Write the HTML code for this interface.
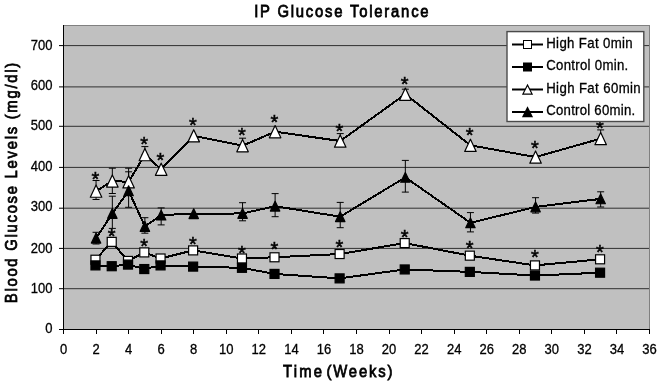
<!DOCTYPE html>
<html><head><meta charset="utf-8"><style>
html,body{margin:0;padding:0;background:#fff;width:661px;height:386px;overflow:hidden;position:relative}
.t{font-family:"Liberation Sans",sans-serif;font-size:14px;fill:#000;stroke:#000;stroke-width:0.3px}
.b{font-family:"Liberation Sans",sans-serif;font-size:17.3px;fill:#000;stroke:#000;stroke-width:0.8px}
.lg{font-family:"Liberation Sans",sans-serif;font-size:14.2px;fill:#000;stroke:#000;stroke-width:0.3px}
.ast{font-family:"Liberation Sans",sans-serif;font-size:20px;fill:#000;stroke:#000;stroke-width:0.5px}
</style></head><body>
<svg width="661" height="386" viewBox="0 0 661 386" style="position:absolute;left:0;top:0;will-change:transform"><rect x="63" y="25" width="587" height="305" fill="#c0c0c0"/><line x1="63" y1="288.7" x2="649" y2="288.7" stroke="#303030" stroke-width="1"/><line x1="63" y1="248.4" x2="649" y2="248.4" stroke="#303030" stroke-width="1"/><line x1="63" y1="208.2" x2="649" y2="208.2" stroke="#303030" stroke-width="1"/><line x1="63" y1="167.4" x2="649" y2="167.4" stroke="#303030" stroke-width="1"/><line x1="63" y1="126.3" x2="649" y2="126.3" stroke="#303030" stroke-width="1"/><line x1="63" y1="86.9" x2="649" y2="86.9" stroke="#303030" stroke-width="1"/><line x1="63" y1="45.6" x2="649" y2="45.6" stroke="#303030" stroke-width="1"/><line x1="63" y1="25.5" x2="650" y2="25.5" stroke="#808080" stroke-width="1"/><line x1="649.5" y1="25" x2="649.5" y2="330" stroke="#808080" stroke-width="1"/><line x1="63.5" y1="25" x2="63.5" y2="330" stroke="#000" stroke-width="1"/><line x1="63" y1="329.5" x2="650" y2="329.5" stroke="#000" stroke-width="1"/><line x1="59" y1="329.5" x2="63" y2="329.5" stroke="#000" stroke-width="1"/><text transform="translate(52.5,332.8) scale(0.93,1)" text-anchor="end" class="t">0</text><line x1="59" y1="288.7" x2="63" y2="288.7" stroke="#000" stroke-width="1"/><text transform="translate(52.5,293.3) scale(0.93,1)" text-anchor="end" class="t">100</text><line x1="59" y1="248.4" x2="63" y2="248.4" stroke="#000" stroke-width="1"/><text transform="translate(52.5,252.6) scale(0.93,1)" text-anchor="end" class="t">200</text><line x1="59" y1="208.2" x2="63" y2="208.2" stroke="#000" stroke-width="1"/><text transform="translate(52.5,211.3) scale(0.93,1)" text-anchor="end" class="t">300</text><line x1="59" y1="167.4" x2="63" y2="167.4" stroke="#000" stroke-width="1"/><text transform="translate(52.5,170.6) scale(0.93,1)" text-anchor="end" class="t">400</text><line x1="59" y1="126.3" x2="63" y2="126.3" stroke="#000" stroke-width="1"/><text transform="translate(52.5,130.0) scale(0.93,1)" text-anchor="end" class="t">500</text><line x1="59" y1="86.9" x2="63" y2="86.9" stroke="#000" stroke-width="1"/><text transform="translate(52.5,89.9) scale(0.93,1)" text-anchor="end" class="t">600</text><line x1="59" y1="45.6" x2="63" y2="45.6" stroke="#000" stroke-width="1"/><text transform="translate(52.5,50.0) scale(0.93,1)" text-anchor="end" class="t">700</text><line x1="63.5" y1="329" x2="63.5" y2="334" stroke="#000" stroke-width="1"/><text transform="translate(63.50,353.8) scale(0.93,1)" text-anchor="middle" class="t">0</text><line x1="96.5" y1="329" x2="96.5" y2="334" stroke="#000" stroke-width="1"/><text transform="translate(96.06,353.8) scale(0.93,1)" text-anchor="middle" class="t">2</text><line x1="128.5" y1="329" x2="128.5" y2="334" stroke="#000" stroke-width="1"/><text transform="translate(128.61,353.8) scale(0.93,1)" text-anchor="middle" class="t">4</text><line x1="161.5" y1="329" x2="161.5" y2="334" stroke="#000" stroke-width="1"/><text transform="translate(161.17,353.8) scale(0.93,1)" text-anchor="middle" class="t">6</text><line x1="193.5" y1="329" x2="193.5" y2="334" stroke="#000" stroke-width="1"/><text transform="translate(193.72,353.8) scale(0.93,1)" text-anchor="middle" class="t">8</text><line x1="226.5" y1="329" x2="226.5" y2="334" stroke="#000" stroke-width="1"/><text transform="translate(226.28,353.8) scale(0.93,1)" text-anchor="middle" class="t">10</text><line x1="258.5" y1="329" x2="258.5" y2="334" stroke="#000" stroke-width="1"/><text transform="translate(258.83,353.8) scale(0.93,1)" text-anchor="middle" class="t">12</text><line x1="291.5" y1="329" x2="291.5" y2="334" stroke="#000" stroke-width="1"/><text transform="translate(291.39,353.8) scale(0.93,1)" text-anchor="middle" class="t">14</text><line x1="323.5" y1="329" x2="323.5" y2="334" stroke="#000" stroke-width="1"/><text transform="translate(323.94,353.8) scale(0.93,1)" text-anchor="middle" class="t">16</text><line x1="356.5" y1="329" x2="356.5" y2="334" stroke="#000" stroke-width="1"/><text transform="translate(356.50,353.8) scale(0.93,1)" text-anchor="middle" class="t">18</text><line x1="389.5" y1="329" x2="389.5" y2="334" stroke="#000" stroke-width="1"/><text transform="translate(389.06,353.8) scale(0.93,1)" text-anchor="middle" class="t">20</text><line x1="421.5" y1="329" x2="421.5" y2="334" stroke="#000" stroke-width="1"/><text transform="translate(421.61,353.8) scale(0.93,1)" text-anchor="middle" class="t">22</text><line x1="454.5" y1="329" x2="454.5" y2="334" stroke="#000" stroke-width="1"/><text transform="translate(454.17,353.8) scale(0.93,1)" text-anchor="middle" class="t">24</text><line x1="486.5" y1="329" x2="486.5" y2="334" stroke="#000" stroke-width="1"/><text transform="translate(486.72,353.8) scale(0.93,1)" text-anchor="middle" class="t">26</text><line x1="519.5" y1="329" x2="519.5" y2="334" stroke="#000" stroke-width="1"/><text transform="translate(519.28,353.8) scale(0.93,1)" text-anchor="middle" class="t">28</text><line x1="551.5" y1="329" x2="551.5" y2="334" stroke="#000" stroke-width="1"/><text transform="translate(551.83,353.8) scale(0.93,1)" text-anchor="middle" class="t">30</text><line x1="584.5" y1="329" x2="584.5" y2="334" stroke="#000" stroke-width="1"/><text transform="translate(584.39,353.8) scale(0.93,1)" text-anchor="middle" class="t">32</text><line x1="616.5" y1="329" x2="616.5" y2="334" stroke="#000" stroke-width="1"/><text transform="translate(616.94,353.8) scale(0.93,1)" text-anchor="middle" class="t">34</text><line x1="649.5" y1="329" x2="649.5" y2="334" stroke="#000" stroke-width="1"/><text transform="translate(649.50,353.8) scale(0.93,1)" text-anchor="middle" class="t">36</text><polyline points="95.46,259.72 111.73,241.87 128.01,260.93 144.29,252.41 160.57,258.50 193.12,250.39 241.96,258.50 274.51,257.28 339.62,254.04 404.73,243.08 469.84,255.66 534.96,265.40 600.07,259.31" fill="none" stroke="#000" stroke-width="2" stroke-linejoin="round" shape-rendering="crispEdges"/><polyline points="95.46,265.40 111.73,266.21 128.01,264.59 144.29,269.05 160.57,265.40 193.12,266.61 241.96,267.83 274.51,273.92 339.62,278.38 404.73,269.45 469.84,271.89 534.96,275.54 600.07,272.70" fill="none" stroke="#000" stroke-width="2" stroke-linejoin="round" shape-rendering="crispEdges"/><polyline points="96.06,191.15 112.33,181.01 128.61,181.82 144.89,154.64 161.17,169.24 193.72,135.77 242.56,145.71 275.11,131.71 340.22,141.05 405.33,94.19 470.44,145.31 535.56,157.07 600.67,138.61" fill="none" stroke="#000" stroke-width="2" stroke-linejoin="round" shape-rendering="crispEdges"/><polyline points="96.06,238.21 112.33,213.47 128.61,190.75 144.89,226.45 161.17,215.09 193.72,213.67 242.56,213.47 275.11,206.16 340.22,216.71 405.33,177.36 470.44,222.80 535.56,206.97 600.67,198.86" fill="none" stroke="#000" stroke-width="2" stroke-linejoin="round" shape-rendering="crispEdges"/><g stroke="#000" stroke-width="1"><line x1="96.06" y1="180.50" x2="96.06" y2="199.50"/><line x1="92.56" y1="180.50" x2="99.56" y2="180.50"/><line x1="92.56" y1="199.50" x2="99.56" y2="199.50"/><line x1="112.33" y1="168.20" x2="112.33" y2="193.50"/><line x1="108.83" y1="168.20" x2="115.83" y2="168.20"/><line x1="108.83" y1="193.50" x2="115.83" y2="193.50"/><line x1="128.61" y1="168.20" x2="128.61" y2="195.50"/><line x1="125.11" y1="168.20" x2="132.11" y2="168.20"/><line x1="125.11" y1="195.50" x2="132.11" y2="195.50"/><line x1="144.89" y1="146.60" x2="144.89" y2="155.00"/><line x1="141.39" y1="146.60" x2="148.39" y2="146.60"/><line x1="141.39" y1="155.00" x2="148.39" y2="155.00"/><line x1="242.56" y1="138.20" x2="242.56" y2="150.00"/><line x1="239.06" y1="138.20" x2="246.06" y2="138.20"/><line x1="239.06" y1="150.00" x2="246.06" y2="150.00"/><line x1="340.22" y1="133.60" x2="340.22" y2="140.00"/><line x1="336.72" y1="133.60" x2="343.72" y2="133.60"/><line x1="336.72" y1="140.00" x2="343.72" y2="140.00"/><line x1="405.33" y1="89.20" x2="405.33" y2="95.00"/><line x1="401.83" y1="89.20" x2="408.83" y2="89.20"/><line x1="401.83" y1="95.00" x2="408.83" y2="95.00"/><line x1="600.67" y1="129.90" x2="600.67" y2="144.00"/><line x1="597.17" y1="129.90" x2="604.17" y2="129.90"/><line x1="597.17" y1="144.00" x2="604.17" y2="144.00"/><line x1="96.06" y1="232.30" x2="96.06" y2="244.00"/><line x1="92.56" y1="232.30" x2="99.56" y2="232.30"/><line x1="92.56" y1="244.00" x2="99.56" y2="244.00"/><line x1="112.33" y1="196.20" x2="112.33" y2="228.40"/><line x1="108.83" y1="196.20" x2="115.83" y2="196.20"/><line x1="108.83" y1="228.40" x2="115.83" y2="228.40"/><line x1="128.61" y1="171.80" x2="128.61" y2="207.30"/><line x1="125.11" y1="171.80" x2="132.11" y2="171.80"/><line x1="125.11" y1="207.30" x2="132.11" y2="207.30"/><line x1="144.89" y1="217.70" x2="144.89" y2="233.20"/><line x1="141.39" y1="217.70" x2="148.39" y2="217.70"/><line x1="141.39" y1="233.20" x2="148.39" y2="233.20"/><line x1="161.17" y1="207.90" x2="161.17" y2="224.90"/><line x1="157.67" y1="207.90" x2="164.67" y2="207.90"/><line x1="157.67" y1="224.90" x2="164.67" y2="224.90"/><line x1="242.56" y1="202.70" x2="242.56" y2="220.80"/><line x1="239.06" y1="202.70" x2="246.06" y2="202.70"/><line x1="239.06" y1="220.80" x2="246.06" y2="220.80"/><line x1="275.11" y1="193.60" x2="275.11" y2="216.70"/><line x1="271.61" y1="193.60" x2="278.61" y2="193.60"/><line x1="271.61" y1="216.70" x2="278.61" y2="216.70"/><line x1="340.22" y1="202.40" x2="340.22" y2="227.70"/><line x1="336.72" y1="202.40" x2="343.72" y2="202.40"/><line x1="336.72" y1="227.70" x2="343.72" y2="227.70"/><line x1="405.33" y1="160.40" x2="405.33" y2="192.10"/><line x1="401.83" y1="160.40" x2="408.83" y2="160.40"/><line x1="401.83" y1="192.10" x2="408.83" y2="192.10"/><line x1="470.44" y1="212.60" x2="470.44" y2="231.90"/><line x1="466.94" y1="212.60" x2="473.94" y2="212.60"/><line x1="466.94" y1="231.90" x2="473.94" y2="231.90"/><line x1="535.56" y1="197.70" x2="535.56" y2="213.10"/><line x1="532.06" y1="197.70" x2="539.06" y2="197.70"/><line x1="532.06" y1="213.10" x2="539.06" y2="213.10"/><line x1="600.67" y1="191.80" x2="600.67" y2="207.00"/><line x1="597.17" y1="191.80" x2="604.17" y2="191.80"/><line x1="597.17" y1="207.00" x2="604.17" y2="207.00"/></g><rect x="90.96" y="255.22" width="9" height="9" fill="#fff" stroke="#000" stroke-width="1.2"/><rect x="107.23" y="237.37" width="9" height="9" fill="#fff" stroke="#000" stroke-width="1.2"/><rect x="123.51" y="256.43" width="9" height="9" fill="#fff" stroke="#000" stroke-width="1.2"/><rect x="139.79" y="247.91" width="9" height="9" fill="#fff" stroke="#000" stroke-width="1.2"/><rect x="156.07" y="254.00" width="9" height="9" fill="#fff" stroke="#000" stroke-width="1.2"/><rect x="188.62" y="245.89" width="9" height="9" fill="#fff" stroke="#000" stroke-width="1.2"/><rect x="237.46" y="254.00" width="9" height="9" fill="#fff" stroke="#000" stroke-width="1.2"/><rect x="270.01" y="252.78" width="9" height="9" fill="#fff" stroke="#000" stroke-width="1.2"/><rect x="335.12" y="249.54" width="9" height="9" fill="#fff" stroke="#000" stroke-width="1.2"/><rect x="400.23" y="238.58" width="9" height="9" fill="#fff" stroke="#000" stroke-width="1.2"/><rect x="465.34" y="251.16" width="9" height="9" fill="#fff" stroke="#000" stroke-width="1.2"/><rect x="530.46" y="260.90" width="9" height="9" fill="#fff" stroke="#000" stroke-width="1.2"/><rect x="595.57" y="254.81" width="9" height="9" fill="#fff" stroke="#000" stroke-width="1.2"/><rect x="90.96" y="260.90" width="9" height="9" fill="#000" stroke="#000" stroke-width="1.2"/><rect x="107.23" y="261.71" width="9" height="9" fill="#000" stroke="#000" stroke-width="1.2"/><rect x="123.51" y="260.09" width="9" height="9" fill="#000" stroke="#000" stroke-width="1.2"/><rect x="139.79" y="264.55" width="9" height="9" fill="#000" stroke="#000" stroke-width="1.2"/><rect x="156.07" y="260.90" width="9" height="9" fill="#000" stroke="#000" stroke-width="1.2"/><rect x="188.62" y="262.11" width="9" height="9" fill="#000" stroke="#000" stroke-width="1.2"/><rect x="237.46" y="263.33" width="9" height="9" fill="#000" stroke="#000" stroke-width="1.2"/><rect x="270.01" y="269.42" width="9" height="9" fill="#000" stroke="#000" stroke-width="1.2"/><rect x="335.12" y="273.88" width="9" height="9" fill="#000" stroke="#000" stroke-width="1.2"/><rect x="400.23" y="264.95" width="9" height="9" fill="#000" stroke="#000" stroke-width="1.2"/><rect x="465.34" y="267.39" width="9" height="9" fill="#000" stroke="#000" stroke-width="1.2"/><rect x="530.46" y="271.04" width="9" height="9" fill="#000" stroke="#000" stroke-width="1.2"/><rect x="595.57" y="268.20" width="9" height="9" fill="#000" stroke="#000" stroke-width="1.2"/><path d="M96.06,185.05 L101.81,197.25 L90.31,197.25 Z" fill="#fff" stroke="#000" stroke-width="1.2" stroke-linejoin="round"/><path d="M112.33,174.91 L118.08,187.11 L106.58,187.11 Z" fill="#fff" stroke="#000" stroke-width="1.2" stroke-linejoin="round"/><path d="M128.61,175.72 L134.36,187.92 L122.86,187.92 Z" fill="#fff" stroke="#000" stroke-width="1.2" stroke-linejoin="round"/><path d="M144.89,148.54 L150.64,160.74 L139.14,160.74 Z" fill="#fff" stroke="#000" stroke-width="1.2" stroke-linejoin="round"/><path d="M161.17,163.14 L166.92,175.34 L155.42,175.34 Z" fill="#fff" stroke="#000" stroke-width="1.2" stroke-linejoin="round"/><path d="M193.72,129.67 L199.47,141.87 L187.97,141.87 Z" fill="#fff" stroke="#000" stroke-width="1.2" stroke-linejoin="round"/><path d="M242.56,139.61 L248.31,151.81 L236.81,151.81 Z" fill="#fff" stroke="#000" stroke-width="1.2" stroke-linejoin="round"/><path d="M275.11,125.61 L280.86,137.81 L269.36,137.81 Z" fill="#fff" stroke="#000" stroke-width="1.2" stroke-linejoin="round"/><path d="M340.22,134.95 L345.97,147.15 L334.47,147.15 Z" fill="#fff" stroke="#000" stroke-width="1.2" stroke-linejoin="round"/><path d="M405.33,88.09 L411.08,100.29 L399.58,100.29 Z" fill="#fff" stroke="#000" stroke-width="1.2" stroke-linejoin="round"/><path d="M470.44,139.21 L476.19,151.41 L464.69,151.41 Z" fill="#fff" stroke="#000" stroke-width="1.2" stroke-linejoin="round"/><path d="M535.56,150.97 L541.31,163.17 L529.81,163.17 Z" fill="#fff" stroke="#000" stroke-width="1.2" stroke-linejoin="round"/><path d="M600.67,132.51 L606.42,144.71 L594.92,144.71 Z" fill="#fff" stroke="#000" stroke-width="1.2" stroke-linejoin="round"/><path d="M96.06,233.31 L100.76,243.11 L91.36,243.11 Z" fill="#000" stroke="#000" stroke-width="1.2" stroke-linejoin="round"/><path d="M112.33,208.57 L117.03,218.37 L107.63,218.37 Z" fill="#000" stroke="#000" stroke-width="1.2" stroke-linejoin="round"/><path d="M128.61,185.85 L133.31,195.65 L123.91,195.65 Z" fill="#000" stroke="#000" stroke-width="1.2" stroke-linejoin="round"/><path d="M144.89,221.55 L149.59,231.35 L140.19,231.35 Z" fill="#000" stroke="#000" stroke-width="1.2" stroke-linejoin="round"/><path d="M161.17,210.19 L165.87,219.99 L156.47,219.99 Z" fill="#000" stroke="#000" stroke-width="1.2" stroke-linejoin="round"/><path d="M193.72,208.77 L198.42,218.57 L189.02,218.57 Z" fill="#000" stroke="#000" stroke-width="1.2" stroke-linejoin="round"/><path d="M242.56,208.57 L247.26,218.37 L237.86,218.37 Z" fill="#000" stroke="#000" stroke-width="1.2" stroke-linejoin="round"/><path d="M275.11,201.26 L279.81,211.06 L270.41,211.06 Z" fill="#000" stroke="#000" stroke-width="1.2" stroke-linejoin="round"/><path d="M340.22,211.81 L344.92,221.61 L335.52,221.61 Z" fill="#000" stroke="#000" stroke-width="1.2" stroke-linejoin="round"/><path d="M405.33,172.46 L410.03,182.26 L400.63,182.26 Z" fill="#000" stroke="#000" stroke-width="1.2" stroke-linejoin="round"/><path d="M470.44,217.90 L475.14,227.70 L465.74,227.70 Z" fill="#000" stroke="#000" stroke-width="1.2" stroke-linejoin="round"/><path d="M535.56,202.07 L540.26,211.87 L530.86,211.87 Z" fill="#000" stroke="#000" stroke-width="1.2" stroke-linejoin="round"/><path d="M600.67,193.96 L605.37,203.76 L595.97,203.76 Z" fill="#000" stroke="#000" stroke-width="1.2" stroke-linejoin="round"/><text x="95.36" y="186.0" text-anchor="middle" class="ast">*</text><text x="144.19" y="151.2" text-anchor="middle" class="ast">*</text><text x="160.47" y="166.8" text-anchor="middle" class="ast">*</text><text x="193.02" y="132.3" text-anchor="middle" class="ast">*</text><text x="241.86" y="141.6" text-anchor="middle" class="ast">*</text><text x="274.41" y="128.5" text-anchor="middle" class="ast">*</text><text x="339.52" y="137.9" text-anchor="middle" class="ast">*</text><text x="404.63" y="91.2" text-anchor="middle" class="ast">*</text><text x="469.74" y="141.8" text-anchor="middle" class="ast">*</text><text x="534.86" y="155.0" text-anchor="middle" class="ast">*</text><text x="599.97" y="135.0" text-anchor="middle" class="ast">*</text><text x="111.63" y="242.8" text-anchor="middle" class="ast">*</text><text x="144.19" y="252.6" text-anchor="middle" class="ast">*</text><text x="193.02" y="250.8" text-anchor="middle" class="ast">*</text><text x="241.86" y="259.5" text-anchor="middle" class="ast">*</text><text x="274.41" y="256.1" text-anchor="middle" class="ast">*</text><text x="339.52" y="254.2" text-anchor="middle" class="ast">*</text><text x="404.63" y="243.8" text-anchor="middle" class="ast">*</text><text x="469.74" y="254.6" text-anchor="middle" class="ast">*</text><text x="534.86" y="264.4" text-anchor="middle" class="ast">*</text><text x="599.97" y="259.0" text-anchor="middle" class="ast">*</text><rect x="507" y="31.6" width="136.8" height="89.9" fill="#fff" stroke="#4a4a4a" stroke-width="1.4"/><line x1="512" y1="44.5" x2="543" y2="44.5" stroke="#000" stroke-width="2"/><rect x="523.5" y="40.5" width="8" height="8" fill="#fff" stroke="#000"/><text transform="translate(546.2,47.5) scale(0.93,1)" class="lg" textLength="93.0" lengthAdjust="spacing">High Fat 0min</text><line x1="512" y1="67.0" x2="543" y2="67.0" stroke="#000" stroke-width="2"/><rect x="523.5" y="63.0" width="8" height="8" fill="#000" stroke="#000"/><text transform="translate(546.2,70.0) scale(0.93,1)" class="lg" textLength="88.2" lengthAdjust="spacing">Control 0min.</text><line x1="512" y1="89.5" x2="543" y2="89.5" stroke="#000" stroke-width="2"/><path d="M527.5,85.0 L532.1,94.1 L522.9,94.1 Z" fill="#fff" stroke="#000" stroke-width="1.2"/><text transform="translate(546.2,92.5) scale(0.93,1)" class="lg" textLength="101.6" lengthAdjust="spacing">High Fat 60min</text><line x1="512" y1="112.0" x2="543" y2="112.0" stroke="#000" stroke-width="2"/><path d="M527.5,107.5 L532.1,116.6 L522.9,116.6 Z" fill="#000" stroke="#000" stroke-width="1.2"/><text transform="translate(546.2,115.0) scale(0.93,1)" class="lg" textLength="95.7" lengthAdjust="spacing">Control 60min.</text><text transform="translate(341.4,16.8) scale(0.86,1)" text-anchor="middle" class="b" textLength="202.9" lengthAdjust="spacing">IP Glucose Tolerance</text><text transform="translate(283.0,377.0) scale(0.86,1)" class="b" textLength="45.3" lengthAdjust="spacing">Time</text><text transform="translate(326.5,377.0) scale(0.86,1)" class="b" textLength="76.7" lengthAdjust="spacing">(Weeks)</text><text transform="translate(17.4,183.0) rotate(-90) scale(0.86,1)" text-anchor="middle" class="b" textLength="279.7" lengthAdjust="spacing">Blood Glucose Levels (mg/dl)</text></svg>
</body></html>
